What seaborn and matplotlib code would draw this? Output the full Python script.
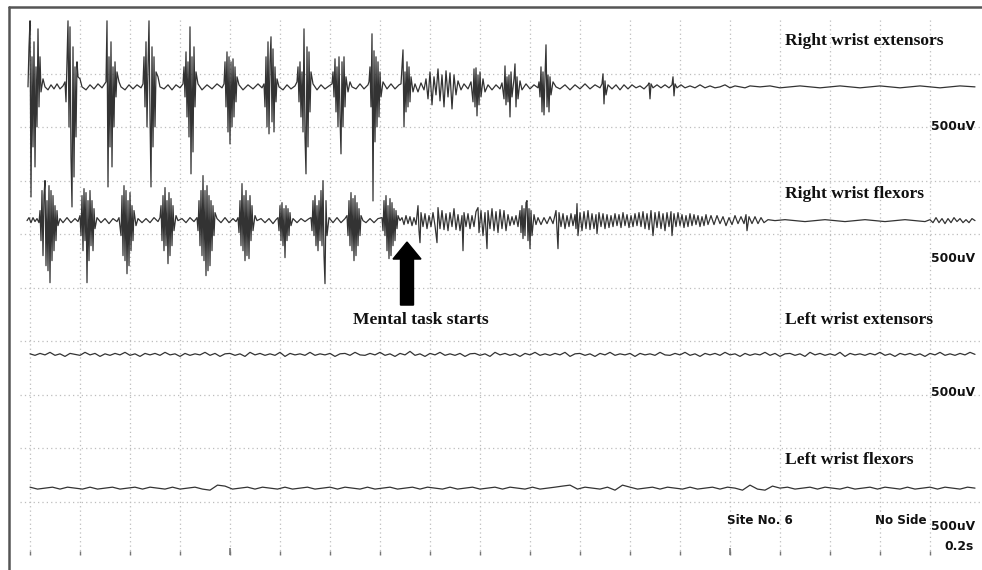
import numpy as np
import pandas as pd
import matplotlib
matplotlib.use("Agg")
import matplotlib.pyplot as plt
from matplotlib.lines import Line2D
from matplotlib.patches import FancyArrow
import seaborn as sns

###################### DATA (time in ms, amplitude in uV) ######################
# Right wrist extensors: (ms, uV) vertices
r_ext = [
    (-8, 0), (-4, 374), (0, 617), (4, -1029), (8, 281), (12, -561), (16, 421), (20, -748), (24, 187), (28, -374),
    (32, 542), (36, -187), (40, 281), (44, -47), (52, 75), (60, 0),
    (72, -28), (84, 19), (96, -19), (108, 28), (120, -19), (132, 9),
    (140, 47), (144, -140), (148, 234), (152, 617), (156, -374), (160, 561), (164, -655), (168, -1122), (172, 374),
    (176, -842), (180, 187), (184, -468), (188, 234), (192, 94), (200, 75), (208, 0),
    (224, -28), (240, 19), (256, -19), (272, 28), (288, -9),
    (304, 47), (308, 617), (312, -935), (316, 281), (320, -561), (324, 421), (328, -748), (332, 187), (336, -374),
    (340, 234), (344, -94), (348, 140), (356, 47), (364, 0),
    (380, -28), (396, 19), (412, -19), (428, 19), (444, -9),
    (452, 28), (456, 281), (460, -187), (464, 421), (468, -374), (472, 187), (476, 617), (480, -281), (484, -935),
    (488, 374), (492, -561), (496, 281), (500, -374), (504, 140), (512, 94), (520, 0),
    (536, -19), (552, 19), (568, -28), (584, 19), (600, -9),
    (612, 28), (616, 187), (620, -94), (624, 327), (628, -281), (632, 234), (636, -468), (640, 561), (644, -813),
    (648, 281), (652, -608), (656, 374), (660, -187), (664, 140), (672, 28),
    (688, -28), (708, 19), (728, -19), (748, 28), (768, -9),
    (776, 28), (780, 234), (784, -187), (788, 327), (792, -421), (796, 281), (800, -533), (804, 234), (808, -374),
    (812, 262), (816, -281), (820, 187), (824, -140), (828, 94), (836, 19),
    (852, -28), (872, 19), (892, -19), (912, 28), (928, -9),
    (936, 28), (940, -187), (944, 281), (948, -374), (952, 421), (956, -439), (960, 234), (964, 468), (968, -327),
    (972, 355), (976, -421), (980, 187), (984, -140), (988, 75), (996, 0),
    (1012, -28), (1028, 19), (1044, -19), (1060, 9),
    (1068, 47), (1072, 187), (1076, -140), (1080, 234), (1084, -281), (1088, 140), (1092, -421), (1096, 542),
    (1100, -468), (1104, -813), (1108, 374), (1112, -561), (1116, 327), (1120, -234), (1124, 140), (1132, 28),
    (1148, -28), (1164, 19), (1180, -19), (1196, 9),
    (1208, 28), (1212, 140), (1216, -94), (1220, 262), (1224, -234), (1228, 187), (1232, -374), (1236, 281),
    (1240, -281), (1244, -626), (1248, 234), (1252, -374), (1256, 281), (1260, -187), (1264, 94), (1272, -47),
    (1280, 47), (1288, 0),
    (1304, -19), (1320, 28), (1336, -19), (1352, 19),
    (1356, 47), (1360, 187), (1364, -187), (1368, 496), (1372, -1066), (1376, 337), (1380, -514), (1384, 281),
    (1388, -374), (1392, 234), (1396, -281), (1400, 140), (1404, -94), (1412, 47),
    (1428, -19), (1444, 28), (1460, -19), (1476, 19),
    (1484, 28), (1488, 187), (1492, 346), (1496, -374), (1500, 140), (1504, -234), (1508, 234), (1512, -187),
    (1516, 187), (1520, -140), (1524, 94), (1532, -47), (1540, 28),
    (1552, -47), (1564, 37), (1576, -28),
    (1584, 75), (1592, -112), (1600, 140), (1608, -168), (1616, 94), (1624, -75), (1632, 168), (1640, -131),
    (1648, 112), (1656, -187), (1664, 150), (1672, -94), (1680, 131), (1688, -206), (1696, 112), (1704, -75),
    (1712, 56), (1724, -28),
    (1736, 28), (1752, -19),
    (1764, 47), (1772, -140), (1776, 168), (1780, -187), (1784, 178), (1788, -271), (1792, 112), (1796, -168),
    (1800, 140), (1804, -94), (1812, 75), (1820, -47), (1832, 19),
    (1848, -28), (1864, 19), (1880, -19),
    (1888, 37), (1896, -112), (1900, 196), (1904, -168), (1908, 94), (1912, -140), (1916, 112), (1920, -281),
    (1924, 140), (1928, -94), (1936, 75), (1940, 215), (1944, -187), (1948, 94), (1952, -112), (1960, 56), (1968, -28),
    (1984, 28), (2000, -19), (2016, 19), (2032, -9),
    (2036, 47), (2040, -94), (2044, 187), (2048, -234), (2052, 140), (2056, -262), (2060, 94), (2064, 393),
    (2068, -187), (2072, 112), (2076, -234), (2080, 94), (2084, -75), (2092, 47), (2104, 0),
    (2120, -19), (2140, 19), (2160, -28), (2180, 19), (2200, -19), (2220, 28), (2240, -19), (2260, 19), (2280, -9),
    (2288, 28), (2292, 122), (2296, -159), (2300, 56), (2304, -75), (2312, 19),
    (2328, -19), (2344, 19), (2360, -28), (2376, 19), (2392, -19), (2408, 19), (2424, -9), (2440, 9), (2456, -19),
    (2472, 19), (2476, 37), (2480, -112), (2484, 28), (2492, -9), (2508, 19), (2524, -9), (2540, 19), (2556, -9),
    (2568, 19), (2572, 94), (2576, -84), (2580, 28), (2588, -9), (2604, 19), (2620, -9),
    (2640, 9), (2660, -9), (2680, 19), (2700, -9), (2720, 9), (2740, -9), (2760, 0), (2780, 19), (2800, -9),
    (2820, 9), (2840, 0), (2860, -9), (2880, 9), (2920, 0), (2960, 9), (3000, -9), (3040, 0), (3080, 9),
    (3120, 0), (3160, -9), (3200, 0), (3240, 9), (3280, 0), (3320, -9), (3360, 0), (3400, 9), (3440, 0),
    (3480, -9), (3520, 0), (3560, 9), (3600, 0), (3640, -9), (3680, 0), (3720, 9), (3780, 0),
]

# Right wrist flexors
r_flx = [
    (-12, 0), (-4, 28), (4, -19), (12, 28), (20, -9), (28, 19), (36, -19),
    (40, 94), (44, -187), (48, 281), (52, -327), (56, 234), (60, 374), (64, -421), (68, 187), (72, -468), (76, 327),
    (80, -580), (84, 281), (88, -374), (92, 234), (96, -281), (100, 140), (104, -187), (108, 94), (112, -47), (120, 19),
    (132, -19), (148, 28), (164, -19), (180, 19), (192, -9),
    (200, 47), (204, -140), (208, 234), (212, -281), (216, 299), (220, -187), (224, 262), (228, -580), (232, 187),
    (236, -374), (240, 281), (244, -234), (248, 187), (252, -281), (256, 112), (260, -75), (268, 28),
    (284, -19), (300, 19), (316, -28), (332, 19), (348, -9),
    (356, 28), (364, -140), (368, 234), (372, -327), (376, 327), (380, -374), (384, 281), (388, -496), (392, 187),
    (396, -421), (400, 262), (404, -281), (408, 140), (412, -187), (416, 94), (424, -47), (432, 19),
    (448, -19), (464, 19), (480, -19), (496, 28), (512, -9),
    (520, 28), (524, 140), (528, -187), (532, 234), (536, -281), (540, 309), (544, -234), (548, 187), (552, -402),
    (556, 262), (560, -327), (564, 206), (568, -234), (572, 140), (576, -94), (584, 47), (592, 0),
    (608, 19), (624, -19), (640, 28), (656, -9),
    (668, 28), (672, -94), (676, 187), (680, -234), (684, 281), (688, -327), (692, 421), (696, -374), (700, 281),
    (704, -514), (708, 327), (712, -468), (716, 234), (720, -421), (724, 187), (728, -281), (732, 140), (736, -140),
    (740, 75), (748, 19),
    (764, -19), (780, 28), (796, -19), (812, 19), (824, -9),
    (832, 28), (836, -112), (840, 187), (844, -234), (848, 346), (852, -281), (856, 234), (860, -374), (864, 281),
    (868, -327), (872, 187), (876, -355), (880, 234), (884, -187), (888, 140), (892, -94), (900, 47), (908, 0),
    (924, 19), (940, -19), (956, 19), (972, -28), (984, 9),
    (992, 28), (996, -94), (1000, 140), (1004, -187), (1008, 168), (1012, -234), (1016, 112), (1020, -346),
    (1024, 140), (1028, -187), (1032, 112), (1036, -140), (1040, 75), (1044, -47), (1052, 19),
    (1068, -19), (1084, 19), (1100, -9), (1116, 19),
    (1124, 28), (1128, -94), (1132, 187), (1136, -140), (1140, 234), (1144, -234), (1148, 140), (1152, -281),
    (1156, 187), (1160, -187), (1164, 281), (1168, -234), (1172, 374), (1176, -327), (1180, -589), (1184, 187),
    (1188, -140), (1196, 28),
    (1212, -19), (1228, 28), (1244, -19), (1260, 19),
    (1268, 47), (1272, -140), (1276, 187), (1280, -234), (1284, 262), (1288, -281), (1292, 206), (1296, -374),
    (1300, 234), (1304, -327), (1308, 168), (1312, -234), (1316, 112), (1320, -140), (1324, 47), (1332, 0),
    (1344, -19), (1360, 19), (1376, -19), (1392, 19),
    (1408, 28), (1412, -94), (1416, 187), (1420, -140), (1424, 234), (1428, -281), (1432, 140), (1436, -355),
    (1440, 206), (1444, -327), (1448, 168), (1452, -234), (1456, 112), (1460, -187), (1464, 94), (1468, -75),
    (1472, 47), (1480, 0),
    (1488, 28), (1496, -37), (1504, 47), (1512, -28), (1520, 37), (1528, -47), (1536, 28), (1544, -37),
    (1552, 140), (1556, -94), (1560, -206), (1564, 75), (1572, -56), (1580, 65), (1588, -75), (1596, 47),
    (1604, -56), (1612, 75), (1620, -47), (1628, -206), (1632, 122), (1640, -75), (1648, 94), (1656, -84),
    (1664, 65), (1672, -94), (1680, 75), (1688, -56), (1696, 112), (1704, -84), (1712, 56), (1720, -94),
    (1728, 47), (1732, -281), (1736, 75), (1744, -56), (1752, 65), (1760, -75), (1768, 47), (1776, -56),
    (1784, 84), (1792, 122), (1796, -112), (1804, 94), (1812, -140), (1820, 75), (1828, -262), (1832, 94),
    (1840, -75), (1848, 112), (1856, -94), (1864, 84), (1872, -112), (1880, 103), (1888, -75), (1896, 94),
    (1904, -94), (1912, 56), (1920, -47), (1928, 37), (1936, -37), (1944, 47), (1952, -56), (1960, 94),
    (1964, -112), (1968, 140), (1972, -168), (1976, 112), (1980, -140), (1984, 168), (1988, 187), (1992, -187),
    (1996, 112), (2000, -262), (2004, 94), (2008, -140), (2016, 56), (2024, -37), (2032, 28), (2044, -37),
    (2056, 28), (2068, -28), (2080, 37), (2092, -28), (2100, 56), (2104, 94), (2108, -75), (2112, -262),
    (2116, 75), (2124, -56), (2132, 65), (2140, -75), (2148, 47), (2156, -56), (2164, 65), (2172, -47),
    (2180, 56), (2184, -75), (2188, 159), (2192, -140), (2200, 75), (2208, -94), (2216, 84), (2224, -75),
    (2232, 94), (2240, -84), (2248, 65), (2256, -75), (2264, 56), (2268, -122), (2276, 75), (2284, -56),
    (2292, 65), (2300, -75), (2308, 56), (2316, -65), (2324, 47), (2332, -56), (2340, 65), (2348, -47),
    (2356, 56), (2364, -65), (2372, 75), (2380, -47), (2388, 56), (2396, -65), (2404, 47), (2412, -56),
    (2420, 65), (2428, -47), (2436, 75), (2444, -56), (2452, 84), (2460, -75), (2468, 65), (2476, -84),
    (2484, 94), (2492, -140), (2500, 75), (2508, -65), (2516, 84), (2524, -75), (2532, 65), (2540, -94),
    (2548, 75), (2556, -56), (2564, 84), (2568, -140), (2576, 65), (2584, -56), (2592, 75), (2600, -47),
    (2608, 56), (2616, -65), (2624, 47), (2632, -56), (2640, 65), (2648, -47), (2656, 56), (2664, -37),
    (2672, 47), (2680, -56), (2688, 37), (2696, -47), (2704, 56), (2712, -37), (2724, 47), (2736, -37),
    (2748, 47), (2760, -28), (2772, 37), (2784, -47), (2796, 28), (2808, -37), (2820, 47), (2832, -28),
    (2844, 37), (2856, -28), (2864, 56), (2868, -94), (2876, 37), (2888, -28), (2900, 37), (2912, -28),
    (2924, 28), (2936, -19), (2952, 9), (2980, 0), (3020, 9), (3060, 0), (3100, -9), (3140, 0), (3180, 9),
    (3220, 0), (3260, -9), (3300, 0), (3340, 9), (3380, 0), (3420, -9), (3460, 0), (3500, 9), (3540, 0),
    (3580, -9), (3600, 9), (3612, -19), (3624, 28), (3636, -19), (3648, 19), (3660, -28), (3672, 19),
    (3684, -19), (3696, 28), (3708, -9), (3720, 19), (3732, -19), (3744, 9), (3756, -19), (3768, 19), (3780, 0),
]

# Left wrist extensors, one value every 20 ms
l_ext_uv = [
    5, -9, 9, -5, 19, -9, 5, -19, 9, 0,
    -9, 19, -5, 9, -19, 5, -9, 9, -5, 19,
    -9, 5, -19, 9, -5, 9, -9, 19, -5, 5,
    -19, 9, -9, 5, -5, 19, -9, 9, -19, 5,
    9, -9, 5, -19, 19, -5, 9, -9, 5, -9,
    19, -19, 9, -5, 5, -9, 19, -9, 5, -5,
    9, -19, 5, 9, -9, 19, -5, -9, 9, -5,
    19, -9, 5, -19, 9, -5, 28, -9, 5, -19,
    9, -5, 19, -9, 5, -9, 9, -19, 5, 9,
    -9, 5, -19, 19, -5, 9, -9, 5, -19, 9,
    -5, 19, -9, 5, -9, 9, -5, 19, -19, 5,
    9, -9, 5, -19, 9, -5, 19, -9, 5, -5,
    9, -19, 9, -5, 5, -9, 19, -5, -9, 9,
    -5, 19, -9, 5, -19, 9, -5, 9, -9, 19,
    -5, 5, -19, 9, -9, 5, -5, 19, -9, 9,
    -19, 5, 9, -9, 5, -19, 19, -5, 9, -9,
    5, -9, 19, -19, 9, -5, 5, -9, 9, -5,
    19, -9, 5, -19, 9, -5, 9, -9, 5, -19,
    9, -5, 19, -9, 5, -9, 9, -5, 19, 0,
]

# Left wrist flexors, one value every 30 ms
l_flx_uv = [
    9, -9, 0, 9, -9, 9, 0, -9, 9, -9,
    0, 9, -9, 0, 9, -9, 9, 0, -9, 9,
    -9, 0, 9, -9, -19, 28, 19, -9, 0, 9,
    -9, 9, 0, -9, 9, -9, 0, 9, -9, 0,
    9, -9, 9, 0, -9, 9, -9, 0, 9, -9,
    0, 9, -9, 9, 0, -9, 9, -9, 0, 9,
    -9, 0, 9, -9, 9, 0, -9, 9, -9, 0,
    9, 19, 28, -9, 9, 0, -9, 9, -19, 28,
    9, -9, 0, 9, -9, 9, 0, -9, 9, -9,
    0, 9, -9, 9, 0, -19, 28, -9, -19, 19,
    0, 9, -9, 0, 9, -9, 9, 0, -9, 9,
    -9, 0, 9, -9, 9, 0, -9, 9, -9, 0,
    9, -9, 9, 0, -9, 9, 0,
]

channels = ["Right wrist extensors", "Right wrist flexors", "Left wrist extensors", "Left wrist flexors"]
offsets_uv = [-625, -1875, -3125, -4375]   # baseline of each channel
div_uv = 500       # vertical scale per division
div_ms = 200       # sweep per division

###################### BUILD TABLE ######################
r_ext = np.array(r_ext, dtype=float)
r_flx = np.array(r_flx, dtype=float)
traces = [
    (r_ext[:, 0], r_ext[:, 1]),
    (r_flx[:, 0], r_flx[:, 1]),
    (np.arange(len(l_ext_uv)) * 20.0, np.array(l_ext_uv, dtype=float)),
    (np.arange(len(l_flx_uv)) * 30.0, np.array(l_flx_uv, dtype=float)),
]
frames = []
for name, off, (t, v) in zip(channels, offsets_uv, traces):
    frames.append(pd.DataFrame({"ms": t, "y": off + v, "channel": name}))
df = pd.concat(frames, ignore_index=True)

###################### PLOT ######################
sns.set_style("white")
W, H = 982, 570
fig = plt.figure(figsize=(W / 100, H / 100), dpi=100)
fig.patch.set_facecolor("white")
ax = fig.add_axes([20 / W, 15 / H, 960 / W, 535 / H])

sns.lineplot(data=df, x="ms", y="y", units="channel", estimator=None, sort=False,
             color="#333333", linewidth=0.9, ax=ax)

ax.set_xlim(-40, 3800)
ax.set_ylim(-5000, 0)
ax.set_xticks(np.arange(0, 3601, div_ms))
ax.set_yticks(np.arange(-4500, -499, div_uv))
ax.grid(True, color="#bdbdbd", linestyle=(0, (1, 2.5)), linewidth=0.9)
ax.tick_params(axis="x", direction="in", length=3, width=1, color="#777777",
               labelbottom=False, bottom=True)
ax.tick_params(axis="y", length=0, labelleft=False)
ax.set_xlabel("")
ax.set_ylabel("")
for s in ax.spines.values():
    s.set_visible(False)
ax.vlines([800, 2800], -5000, -4930, color="#777777", lw=1.2, clip_on=False)

# arrow at the start of the mental task
ax.add_patch(FancyArrow(1508, -2664, 0, 589, width=52, head_width=112, head_length=159,
                        length_includes_head=True, color="black"))

# outer frame (left & top)
fig.add_artist(Line2D([9 / W, 9 / W], [0, 1 - 7 / H], transform=fig.transFigure, color="#555555", lw=1.8))
fig.add_artist(Line2D([9 / W, 1], [1 - 7 / H, 1 - 7 / H], transform=fig.transFigure, color="#555555", lw=1.8))


def ftext(x, y, s, serif=True, size=12.6, ha="left"):
    fam = "Liberation Serif" if serif else "DejaVu Sans"
    fig.text(x / W, 1 - y / H, s, family=fam, fontweight="bold", fontsize=size,
             ha=ha, va="center", color="#111111")


label_y = [41, 194, 320, 460]
for name, ly in zip(channels, label_y):
    ftext(785, ly, name)
ftext(421, 320, "Mental task starts", ha="center")

for sy in [126, 258, 392, 527]:
    ftext(975, sy, "500uV", serif=False, size=8.8, ha="right")
ftext(727, 520, "Site No. 6", serif=False, size=8.6)
ftext(927, 520, "No Side", serif=False, size=8.6, ha="right")
ftext(974, 546, "0.2s", serif=False, size=8.8, ha="right")

fig.savefig("out.png", dpi=100, facecolor="white")
